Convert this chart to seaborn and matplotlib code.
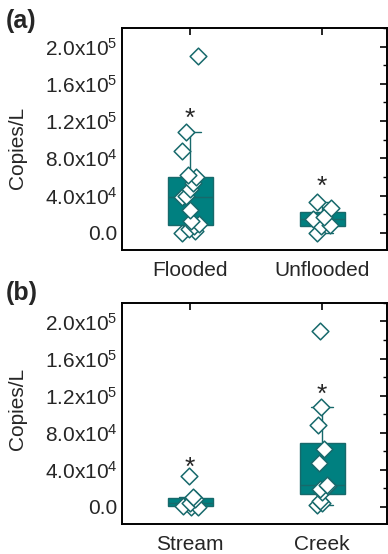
import numpy as np
import pandas as pd
import matplotlib
matplotlib.use("Agg")
import matplotlib.pyplot as plt
import seaborn as sns
from matplotlib.ticker import MultipleLocator, FixedLocator, FixedFormatter

# =====================================================
# DATA (copies/L)
# =====================================================

groups_a = ["Flooded", "Unflooded"]
flooded = [0, 1500, 4000, 7000, 9100, 13000, 24700, 38000, 39500,
           47300, 53400, 59500, 62500, 88200, 107900, 189600]
unflooded = [0, 6800, 8500, 14500, 17500, 27000, 33000]

groups_b = ["Stream", "Creek"]
stream = [0, 0, 1000, 4300, 8000, 10500, 33300]
creek = [1800, 4300, 6100, 16100, 19000, 22600, 23500, 47700,
         62000, 87900, 107900, 189600]

# significance stars (y position per group)
stars_a = [122000, 49000]
stars_b = [42000, 121000]

yticks = [0, 40000, 80000, 120000, 160000, 200000]
ytick_labels = ["0.0", "4.0x10$^4$", "8.0x10$^4$",
                "1.2x10$^5$", "1.6x10$^5$", "2.0x10$^5$"]

# =====================================================
# STYLE
# =====================================================

sns.set_style("white")
plt.rcParams["font.family"] = ["Liberation Sans", "DejaVu Sans"]
plt.rcParams["mathtext.default"] = "regular"

teal = "#008080"
dark_teal = "#17696b"

np.random.seed(7)

fig = plt.figure(figsize=(3.88, 5.54), dpi=100)
ax_a = fig.add_axes([0.3144, 0.5487, 0.683, 0.4008])
ax_b = fig.add_axes([0.3144, 0.0542, 0.683, 0.3990])


def draw_panel(ax, names, values, stars, tag, label_y, tag_y):
    df = pd.DataFrame({
        "group": np.repeat(names, [len(v) for v in values]),
        "copies": np.concatenate(values),
    })

    sns.boxplot(
        data=df, x="group", y="copies", order=names, ax=ax,
        width=0.34, color=teal, saturation=1, linecolor=dark_teal,
        linewidth=1.0, showfliers=False,
    )

    sns.stripplot(
        data=df, x="group", y="copies", order=names, ax=ax,
        jitter=0.07, marker="D", size=8.5, color="white",
        edgecolor=dark_teal, linewidth=1.1, zorder=4,
    )

    for i, ys in enumerate(stars):
        ax.text(i, ys, "*", ha="center", va="center", fontsize=19)

    ax.set_xlim(-0.515, 1.49)
    ax.set_ylim(-18500, 220000)

    ax.yaxis.set_major_locator(FixedLocator(yticks))
    ax.yaxis.set_major_formatter(FixedFormatter(ytick_labels))
    ax.yaxis.set_minor_locator(MultipleLocator(20000))

    ax.set_xlabel("")
    ax.set_ylabel("Copies/L", fontsize=15)
    ax.yaxis.set_label_coords(-0.36, label_y)

    ax.tick_params(axis="both", which="both", direction="in",
                   top=True, right=True, labelsize=15, color="black")
    ax.tick_params(axis="both", which="major", length=5, width=1.2)
    ax.tick_params(axis="y", which="minor", length=3, width=1.0)
    ax.tick_params(axis="x", which="major", pad=8)
    ax.tick_params(axis="y", which="major", pad=3)

    for side in ax.spines.values():
        side.set_visible(True)
        side.set_color("black")
        side.set_linewidth(1.4)

    ax.text(-0.44, tag_y, tag, transform=ax.transAxes,
            fontsize=18, fontweight="bold", ha="left", va="center")


draw_panel(ax_a, groups_a, [flooded, unflooded], stars_a, "(a)", 0.46, 1.03)
draw_panel(ax_b, groups_b, [stream, creek], stars_b, "(b)", 0.52, 1.045)

plt.savefig("out.png", dpi=100)
